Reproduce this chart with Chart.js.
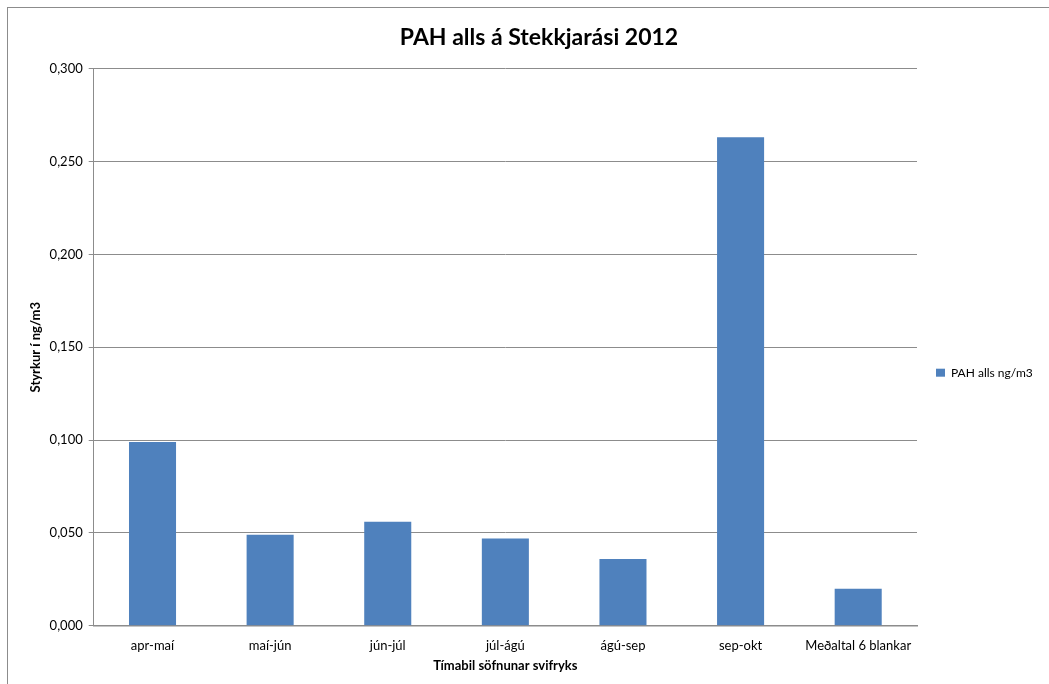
<!DOCTYPE html>
<html>
<head>
<meta charset="utf-8">
<script src="https://cdn.jsdelivr.net/npm/chart.js@4/dist/chart.umd.min.js"></script>
<style>
  html, body { margin: 0; padding: 0; background: #fff; overflow: hidden; }
  #frame {
    position: absolute; left: 7px; top: 7px;
    width: 1100px; height: 740px;
    border-left: 1px solid #8c8c8c; border-top: 1px solid #8c8c8c;
  }
  #wrap { position: absolute; left: 1px; top: 1px; width: 1041px; height: 676px; }
</style>
</head>
<body>
<div id="frame"><div id="wrap"><canvas id="chart"></canvas></div></div>
<script>
// Data
const categories = ['apr-maí', 'maí-jún', 'jún-júl', 'júl-ágú', 'ágú-sep', 'sep-okt', 'Meðaltal 6 blankar'];
const pahValues = [0.099, 0.049, 0.056, 0.047, 0.036, 0.263, 0.020];
const seriesLabel = 'PAH alls ng/m3';
const yTicks = [0, 0.05, 0.1, 0.15, 0.2, 0.25, 0.3];

const FONT = 'Lato, "Open Sans", sans-serif';
const GRID = '#8c8c8c';

// Fix legend width so the plot area ends where it does in the reference
const legendWidth = {
  id: 'legendWidth',
  beforeInit(chart) {
    const fit = chart.legend.fit;
    chart.legend.fit = function () {
      fit.bind(chart.legend)();
      this.width = 133;
    };
  }
};

const ctx = document.getElementById('chart').getContext('2d');
new Chart(ctx, {
  type: 'bar',
  data: {
    labels: categories,
    datasets: [{
      label: seriesLabel,
      data: pahValues,
      backgroundColor: '#4f81bd',
      borderWidth: 0,
      barPercentage: 1,
      categoryPercentage: 0.4
    }]
  },
  options: {
    responsive: true,
    maintainAspectRatio: false,
    animation: false,
    layout: { padding: { left: 19, right: 0, top: 0, bottom: 11 } },
    plugins: {
      title: {
        display: true,
        text: 'PAH alls á Stekkjarási 2012',
        color: '#000',
        font: { family: FONT, size: 23, weight: 'bold' },
        padding: { top: 15, bottom: 17 }
      },
      legend: {
        position: 'right',
        title: { display: true, text: ' ', padding: 24, font: { size: 12 } },
        labels: {
          boxWidth: 9,
          boxHeight: 8,
          padding: 19,
          color: '#000',
          font: { family: FONT, size: 12 }
        }
      },
      tooltip: { enabled: false }
    },
    scales: {
      x: {
        grid: { display: false },
        border: { display: true, color: GRID, width: 1.5 },
        ticks: { color: '#000', font: { family: FONT, size: 13 }, padding: 4, maxRotation: 0 },
        title: {
          display: true,
          text: 'Tímabil söfnunar svifryks',
          color: '#000',
          font: { family: FONT, size: 13, weight: 'bold' },
          padding: { top: 1, bottom: 0 }
        }
      },
      y: {
        min: 0,
        max: 0.3,
        afterBuildTicks(axis) {
          axis.ticks = yTicks.map(v => ({ value: v }));
        },
        grid: { color: GRID, lineWidth: 1, tickLength: 5 },
        border: { display: true, color: GRID, width: 1 },
        ticks: {
          color: '#000',
          font: { family: FONT, size: 13 },
          padding: 6,
          callback: v => v.toFixed(3).replace('.', ',')
        },
        title: {
          display: true,
          text: 'Styrkur í ng/m3',
          color: '#000',
          font: { family: FONT, size: 13, weight: 'bold' },
          padding: { top: 0, bottom: 0 }
        }
      }
    }
  },
  plugins: [legendWidth]
});
</script>
</body>
</html>
